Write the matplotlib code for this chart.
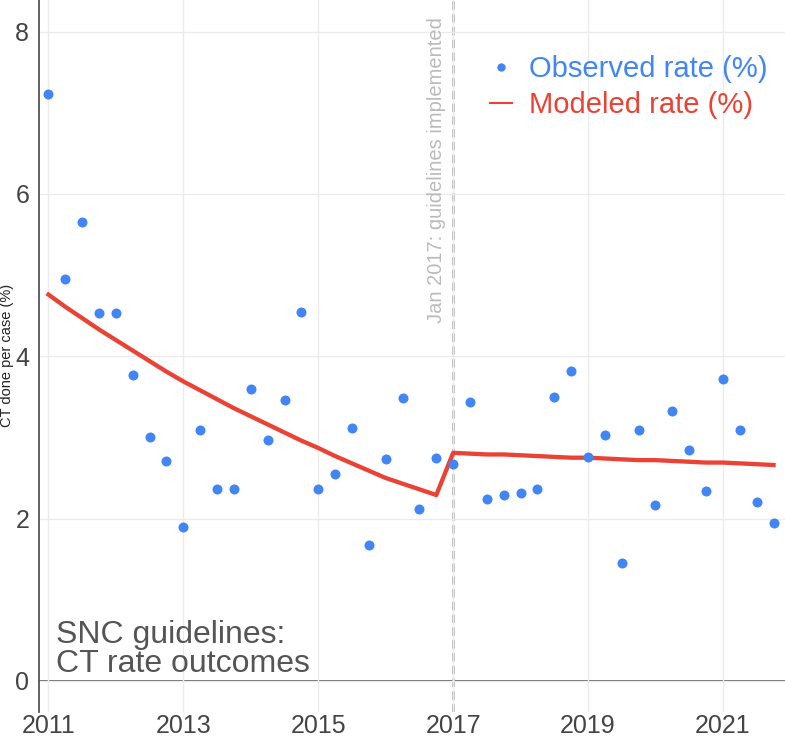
import numpy as np
import matplotlib.pyplot as plt
from matplotlib.lines import Line2D

plt.rcParams['font.family'] = ['Liberation Sans', 'DejaVu Sans']

# ----------------------------
# Datos (trimestrales, 2011.0 - 2021.75)
# ----------------------------
quarters = np.arange(2011.0, 2022.0, 0.25)

observed = [
    7.23, 4.95, 5.66, 4.53,   # 2011
    4.53, 3.77, 3.01, 2.71,   # 2012
    1.90, 3.09, 2.37, 2.37,   # 2013
    3.60, 2.97, 3.46, 4.55,   # 2014
    2.37, 2.55, 3.12, 1.68,   # 2015
    2.73, 3.49, 2.12, 2.75,   # 2016
    2.67, 3.44, 2.24, 2.29,   # 2017
    2.31, 2.37, 3.50, 3.82,   # 2018
    2.76, 3.03, 1.45, 3.09,   # 2019
    2.17, 3.33, 2.84, 2.34,   # 2020
    3.72, 3.09, 2.21, 1.95,   # 2021
]

modeled = [
    4.76, 4.61, 4.47, 4.33,
    4.20, 4.07, 3.94, 3.81,
    3.69, 3.58, 3.47, 3.36,
    3.26, 3.16, 3.06, 2.96,
    2.87, 2.77, 2.68, 2.59,
    2.50, 2.43, 2.36, 2.29,
    2.81, 2.80, 2.79, 2.79,
    2.78, 2.77, 2.76, 2.75,
    2.75, 2.74, 2.73, 2.72,
    2.72, 2.71, 2.70, 2.69,
    2.69, 2.68, 2.67, 2.66,
]

x_ticks = [2011, 2013, 2015, 2017, 2019, 2021]
y_ticks = [0, 2, 4, 6, 8]
guideline_year = 2017

BLUE = "#4285F4"
RED = "#EA4335"
DARK = "#555555"

# ----------------------------
# Plot
# ----------------------------
fig = plt.figure(figsize=(7.85, 7.38), dpi=100)
ax = fig.add_axes([39 / 785, 26.3 / 738, 746 / 785, 711.7 / 738])

ax.set_xlim(2010.86, 2021.92)
ax.set_ylim(-0.38, 8.39)

ax.grid(True, color="#ebebeb", linewidth=1.0, zorder=0)
ax.set_xticks(x_ticks)
ax.set_yticks(y_ticks)
ax.tick_params(length=0, labelsize=18, colors="#444444")
ax.tick_params(axis="y", pad=7)
ax.tick_params(axis="x", pad=2)

for s in ["top", "right", "bottom"]:
    ax.spines[s].set_visible(False)
ax.spines["left"].set_color(DARK)
ax.spines["left"].set_linewidth(1.3)
ax.axhline(0, color=DARK, linewidth=1.3, zorder=1)

# línea de implementación
ax.axvline(guideline_year, color="#b5b5b5", linewidth=2.0, linestyle=(0, (3.0, 1.6)), zorder=1)
ax.text(2016.76, 8.18, "Jan 2017: guidelines implemented", rotation=90,
        ha="center", va="top", fontsize=14.5, color="#bbbbbb")

ax.plot(quarters, modeled, color=RED, linewidth=3.1, zorder=3)
ax.scatter(quarters, observed, s=52, color=BLUE, zorder=4, linewidths=0)

ax.set_ylabel("CT done per case (%)", fontsize=10.5, color="#222222")
ax.yaxis.set_label_coords(-0.034, 0.5)

ax.text(0.0228, 0.0965, "SNC guidelines:", transform=ax.transAxes,
        fontsize=23, color=DARK, ha="left", va="baseline")
ax.text(0.0228, 0.0558, "CT rate outcomes", transform=ax.transAxes,
        fontsize=23, color=DARK, ha="left", va="baseline")

handles = [
    Line2D([], [], marker="o", linestyle="none", color=BLUE, markersize=5),
    Line2D([], [], color=RED, linewidth=1.5),
]
ax.legend(handles, ["Observed rate (%)", "Modeled rate (%)"],
          loc="upper right", bbox_to_anchor=(0.977, 0.923), frameon=False,
          fontsize=21, labelcolor=[BLUE, RED], handlelength=0.75,
          handletextpad=0.6, labelspacing=0.28, borderpad=0, borderaxespad=0)

fig.savefig("out.png", dpi=100)
